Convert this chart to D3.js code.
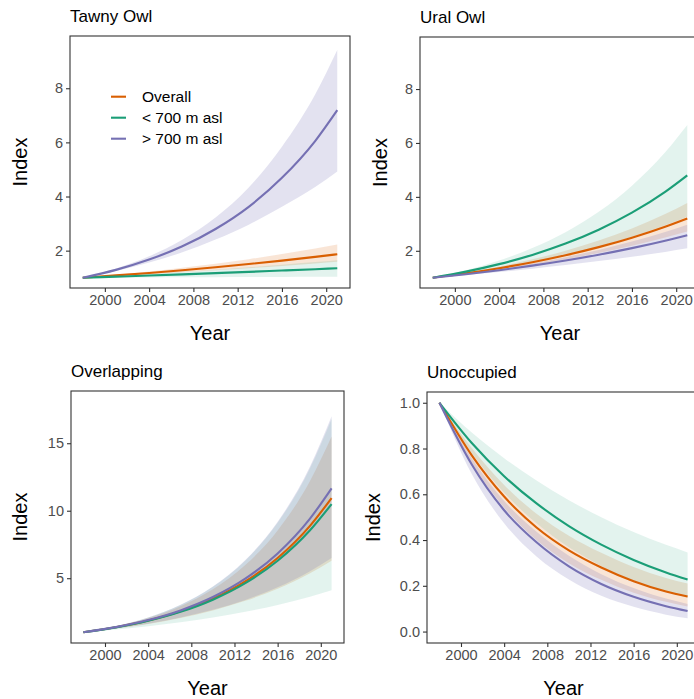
<!DOCTYPE html>
<html>
<head>
<meta charset="utf-8">
<script src="https://cdn.jsdelivr.net/npm/d3@7"></script>
<style>
  body { margin: 0; background: #ffffff; }
  svg { display: block; }
  text { font-family: "Liberation Sans", Arial, Helvetica, sans-serif; }
</style>
</head>
<body>
<svg id="chart" width="694" height="699"></svg>
<script>
// Survey years at which the fitted indices are listed
const years = [1998, 2001, 2004, 2007, 2010, 2013, 2016, 2019, 2021];
const seriesNames = ["Overall", "< 700 m asl", "> 700 m asl"];
const seriesColors = ["#D95F02", "#1B9E77", "#7570B3"];
const ribbonOpacity = [0.16, 0.12, 0.2];
const xTicks = [2000, 2004, 2008, 2012, 2016, 2020];

// Tawny Owl: rows are Overall, < 700 m asl, > 700 m asl
const tawnyMid = [
  [1, 1.085, 1.177, 1.277, 1.386, 1.504, 1.632, 1.770, 1.869],
  [1, 1.040, 1.081, 1.125, 1.170, 1.216, 1.265, 1.315, 1.350],
  [1, 1.29, 1.67, 2.16, 2.80, 3.62, 4.69, 6.05, 7.19]
];
const tawnyLow = [
  [1, 1.062, 1.128, 1.198, 1.272, 1.352, 1.436, 1.526, 1.587],
  [1, 1.006, 1.010, 1.016, 1.021, 1.025, 1.031, 1.036, 1.040],
  [1, 1.25, 1.56, 1.94, 2.41, 2.96, 3.62, 4.35, 4.92]
];
const tawnyHigh = [
  [1, 1.110, 1.232, 1.368, 1.518, 1.686, 1.872, 2.076, 2.226],
  [1, 1.067, 1.138, 1.216, 1.298, 1.385, 1.479, 1.577, 1.647],
  [1, 1.34, 1.79, 2.40, 3.22, 4.33, 5.84, 7.77, 9.41]
];

// Ural Owl
const uralMid = [
  [1, 1.164, 1.355, 1.577, 1.835, 2.136, 2.486, 2.894, 3.20],
  [1, 1.227, 1.506, 1.848, 2.267, 2.782, 3.413, 4.188, 4.80],
  [1, 1.132, 1.280, 1.449, 1.640, 1.855, 2.099, 2.375, 2.58]
];
const uralLow = [
  [1, 1.140, 1.298, 1.479, 1.686, 1.920, 2.190, 2.495, 2.72],
  [1, 1.167, 1.361, 1.589, 1.854, 2.162, 2.522, 2.944, 3.264],
  [1, 1.101, 1.212, 1.335, 1.469, 1.618, 1.780, 1.959, 2.09]
];
const uralHigh = [
  [1, 1.190, 1.415, 1.683, 2.000, 2.380, 2.829, 3.366, 3.776],
  [1, 1.281, 1.641, 2.101, 2.691, 3.447, 4.416, 5.654, 6.67],
  [1, 1.152, 1.327, 1.530, 1.765, 2.031, 2.342, 2.698, 2.967]
];

// Overlapping territories
const overlapMid = [
  [1, 1.366, 1.866, 2.550, 3.483, 4.759, 6.501, 8.882, 10.94],
  [1, 1.359, 1.846, 2.509, 3.409, 4.632, 6.294, 8.553, 10.49],
  [1, 1.378, 1.898, 2.615, 3.603, 4.963, 6.838, 9.419, 11.66]
];
const overlapLow = [
  [1, 1.272, 1.616, 2.055, 2.612, 3.322, 4.219, 5.365, 6.30],
  [1, 1.203, 1.445, 1.736, 2.090, 2.511, 3.015, 3.626, 4.10],
  [1, 1.277, 1.629, 2.082, 2.655, 3.390, 4.328, 5.520, 6.50]
];
const overlapHigh = [
  [1, 1.429, 2.043, 2.922, 4.176, 5.973, 8.542, 12.21, 15.5],
  [1, 1.445, 2.088, 3.016, 4.360, 6.300, 9.101, 13.15, 16.8],
  [1, 1.447, 2.094, 3.031, 4.385, 6.343, 9.177, 13.28, 17.0]
];

// Unoccupied territories
const unoccMid = [
  [1, 0.77, 0.59, 0.455, 0.355, 0.28, 0.22, 0.175, 0.153],
  [1, 0.824, 0.679, 0.560, 0.461, 0.380, 0.313, 0.258, 0.227],
  [1, 0.73, 0.53, 0.39, 0.285, 0.208, 0.152, 0.111, 0.09]
];
const unoccLow = [
  [1, 0.738, 0.542, 0.400, 0.299, 0.226, 0.170, 0.130, 0.110],
  [1, 0.779, 0.607, 0.473, 0.368, 0.287, 0.223, 0.174, 0.148],
  [1, 0.689, 0.473, 0.328, 0.227, 0.156, 0.108, 0.074, 0.058]
];
const unoccHigh = [
  [1, 0.802, 0.641, 0.515, 0.419, 0.344, 0.282, 0.234, 0.210],
  [1, 0.870, 0.758, 0.660, 0.574, 0.500, 0.435, 0.379, 0.346],
  [1, 0.758, 0.571, 0.436, 0.331, 0.251, 0.190, 0.144, 0.120]
];

const panels = [
  { title: "Tawny Owl", mid: tawnyMid, low: tawnyLow, high: tawnyHigh,
    yDomain: [0.62, 9.93], yTicks: [2, 4, 6, 8], fmt: d3.format("d"),
    box: { x0: 70, x1: 350, y0: 36, y1: 288 }, yLabelX: 20, legend: true },
  { title: "Ural Owl", mid: uralMid, low: uralLow, high: uralHigh,
    yDomain: [0.62, 9.93], yTicks: [2, 4, 6, 8], fmt: d3.format("d"),
    box: { x0: 420, x1: 700, y0: 37, y1: 288 }, yLabelX: 380, legend: false },
  { title: "Overlapping", mid: overlapMid, low: overlapLow, high: overlapHigh,
    yDomain: [0.2, 18.87], yTicks: [5, 10, 15], fmt: d3.format("d"),
    box: { x0: 71, x1: 344, y0: 391, y1: 643 }, yLabelX: 20, legend: false },
  { title: "Unoccupied", mid: unoccMid, low: unoccLow, high: unoccHigh,
    yDomain: [-0.05, 1.047], yTicks: [0, 0.2, 0.4, 0.6, 0.8, 1.0], fmt: d3.format(".1f"),
    box: { x0: 427, x1: 700, y0: 392, y1: 643 }, yLabelX: 373, legend: false }
];

const svg = d3.select("#chart");
const axisColor = "#333333";
const tickTextColor = "#4D4D4D";

panels.forEach((p, pi) => {
  const b = p.box;
  const x = d3.scaleLinear().domain([1996.85, 2022.15]).range([b.x0, b.x1]);
  const y = d3.scaleLinear().domain(p.yDomain).range([b.y1, b.y0]);
  const g = svg.append("g").attr("class", "panel");

  const clipId = "clip" + pi;
  g.append("clipPath").attr("id", clipId)
    .append("rect").attr("x", b.x0).attr("y", b.y0)
    .attr("width", b.x1 - b.x0).attr("height", b.y1 - b.y0);

  const plot = g.append("g").attr("clip-path", `url(#${clipId})`);

  const area = d3.area()
    .x(d => x(d.year)).y0(d => y(d.low)).y1(d => y(d.high))
    .curve(d3.curveMonotoneX);
  const line = d3.line()
    .x(d => x(d.year)).y(d => y(d.mid))
    .curve(d3.curveMonotoneX);

  const rows = seriesNames.map((name, si) =>
    years.map((yr, i) => ({ year: yr, mid: p.mid[si][i], low: p.low[si][i], high: p.high[si][i] })));

  // confidence ribbons
  rows.forEach((r, si) => {
    plot.append("path").datum(r)
      .attr("d", area)
      .attr("fill", seriesColors[si])
      .attr("fill-opacity", ribbonOpacity[si])
      .attr("stroke", "none");
  });
  // fitted trends
  rows.forEach((r, si) => {
    plot.append("path").datum(r)
      .attr("d", line)
      .attr("fill", "none")
      .attr("stroke", seriesColors[si])
      .attr("stroke-width", 2.1);
  });

  // axes
  const xAxis = d3.axisBottom(x).tickValues(xTicks).tickFormat(d3.format("d"))
    .tickSize(4).tickPadding(3);
  const yAxis = d3.axisLeft(y).tickValues(p.yTicks).tickFormat(p.fmt)
    .tickSize(4).tickPadding(3);

  const gx = g.append("g").attr("transform", `translate(0,${b.y1})`).call(xAxis);
  const gy = g.append("g").attr("transform", `translate(${b.x0},0)`).call(yAxis);
  [gx, gy].forEach(ax => {
    ax.select(".domain").remove();
    ax.selectAll(".tick line").attr("stroke", axisColor).attr("stroke-width", 1.1);
    ax.selectAll(".tick text").attr("fill", tickTextColor)
      .style("font-size", "14.5px");
  });

  // panel border
  g.append("rect")
    .attr("x", b.x0).attr("y", b.y0)
    .attr("width", b.x1 - b.x0).attr("height", b.y1 - b.y0)
    .attr("fill", "none").attr("stroke", axisColor).attr("stroke-width", 1.1);

  // titles
  g.append("text").attr("x", b.x0).attr("y", b.y0 - 14)
    .style("font-size", "17px").attr("fill", "#000").text(p.title);
  g.append("text")
    .attr("x", (b.x0 + b.x1) / 2).attr("y", b.y1 + 52)
    .attr("text-anchor", "middle").style("font-size", "20px").attr("fill", "#000")
    .text("Year");
  g.append("text")
    .attr("transform", `translate(${p.yLabelX},${(b.y0 + b.y1) / 2}) rotate(-90)`)
    .attr("text-anchor", "middle").attr("dominant-baseline", "central")
    .style("font-size", "20px").attr("fill", "#000")
    .text("Index");

  if (p.legend) {
    const lg = g.append("g");
    seriesNames.forEach((name, si) => {
      const cy = 96.7 + si * 21;
      lg.append("line").attr("x1", 111).attr("x2", 126).attr("y1", cy).attr("y2", cy)
        .attr("stroke", seriesColors[si]).attr("stroke-width", 2.1);
      lg.append("text").attr("x", 142).attr("y", cy)
        .attr("dominant-baseline", "central")
        .style("font-size", "15.5px").attr("fill", "#000").text(name);
    });
  }
});
</script>
</body>
</html>
